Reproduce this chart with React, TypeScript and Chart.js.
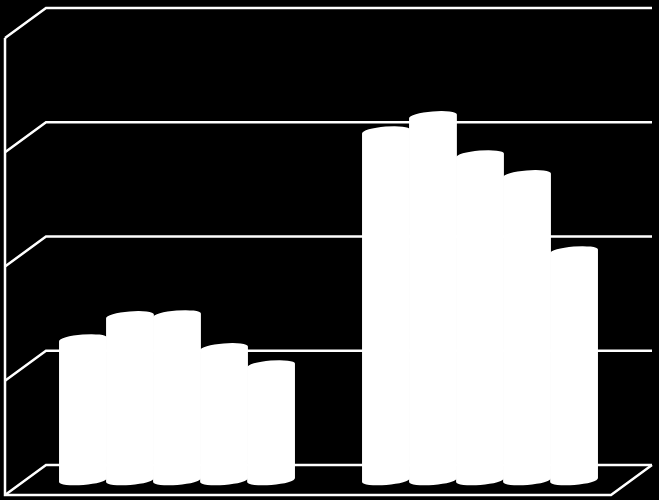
import { useEffect, useRef } from "react";
import Chart from "chart.js/auto";

const categories = ["Group 1", "Group 2"];
const seriesA = [6.15, 15.25];
const seriesB = [7.16, 15.91];
const seriesC = [7.2, 14.2];
const seriesD = [5.76, 13.33];
const seriesE = [5.01, 10.0];
const gridValues = [0, 5, 10, 15, 20];

// offset from the plane of the bars to the back wall of the fake 3D box
const DEPTH_X = 20.5;
const DEPTH_Y = 15;
const CAP_RY = 5;
const CAP_TILT = -0.08;

const boxPlugin = {
  id: "box",
  // walls and floor go behind the bars
  beforeDatasetsDraw(chart: any) {
    const { ctx, chartArea, scales } = chart;
    const left = chartArea.left;
    const right = chartArea.right;
    ctx.save();
    ctx.strokeStyle = "#ffffff";
    ctx.lineWidth = 2.5;
    gridValues.forEach((v) => {
      const y = scales.y.getPixelForValue(v);
      ctx.beginPath();
      ctx.moveTo(left - DEPTH_X, y + DEPTH_Y);
      ctx.lineTo(left + DEPTH_X, y - DEPTH_Y);
      ctx.lineTo(right + DEPTH_X, y - DEPTH_Y);
      ctx.stroke();
    });
    const bottom = scales.y.getPixelForValue(gridValues[0]);
    const top = scales.y.getPixelForValue(gridValues[gridValues.length - 1]);
    ctx.beginPath();
    ctx.moveTo(left - DEPTH_X, top + DEPTH_Y);
    ctx.lineTo(left - DEPTH_X, bottom + DEPTH_Y);
    ctx.lineTo(right - DEPTH_X, bottom + DEPTH_Y);
    ctx.lineTo(right + DEPTH_X, bottom - DEPTH_Y);
    ctx.stroke();
    ctx.restore();
  },
  // skip the flat rectangles, afterDatasetsDraw paints cylinders instead
  beforeDatasetDraw() {
    return false;
  },
  afterDatasetsDraw(chart: any) {
    const { ctx } = chart;
    ctx.save();
    chart.data.datasets.forEach((dataset: any, i: number) => {
      ctx.fillStyle = dataset.backgroundColor;
      chart.getDatasetMeta(i).data.forEach((bar: any) => {
        const rx = bar.width / 2;
        ctx.beginPath();
        ctx.ellipse(bar.x, bar.y, rx, CAP_RY, CAP_TILT, Math.PI, Math.PI * 2);
        ctx.ellipse(bar.x, bar.base, rx, CAP_RY, CAP_TILT, 0, Math.PI);
        ctx.closePath();
        ctx.fill();
      });
    });
    ctx.restore();
  },
};

function App() {
  const chartRef = useRef<HTMLCanvasElement | null>(null);

  useEffect(() => {
    if (!chartRef.current) return;
    const series = [seriesA, seriesB, seriesC, seriesD, seriesE];
    const chart = new Chart(chartRef.current, {
      type: "bar",
      data: {
        labels: categories,
        datasets: series.map((data) => ({
          data,
          backgroundColor: "#ffffff",
          borderWidth: 0,
          categoryPercentage: 0.776,
          barPercentage: 1.02,
        })),
      },
      options: {
        responsive: false,
        animation: false,
        layout: { padding: { left: 25.5, right: 27.5, top: 23, bottom: 20 } },
        plugins: { legend: { display: false }, tooltip: { enabled: false } },
        scales: {
          x: { display: false },
          y: { display: false, min: 0, max: 20 },
        },
      },
      plugins: [boxPlugin],
    } as any);

    return () => {
      chart.destroy();
    };
  }, []);

  return (
    <div style={{ position: "fixed", inset: 0, background: "#000000" }}>
      <canvas ref={chartRef} width={659} height={500} style={{ display: "block" }} />
    </div>
  );
}

export default App;
